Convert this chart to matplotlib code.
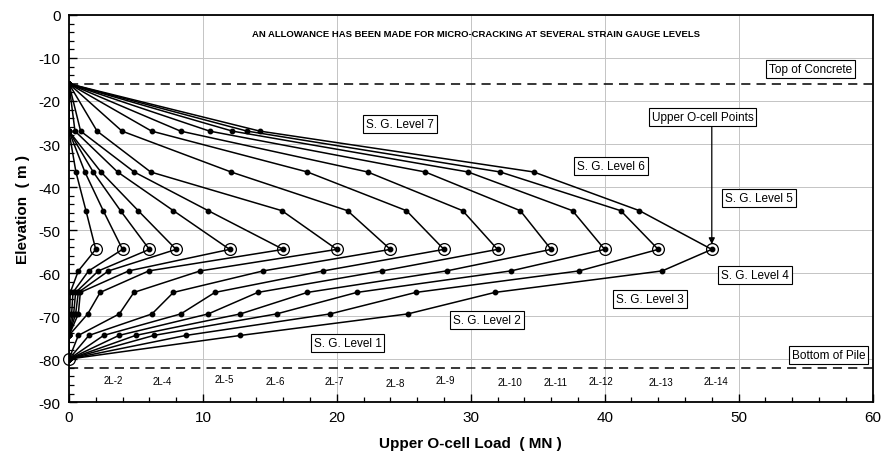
import matplotlib.pyplot as plt
from matplotlib.ticker import MultipleLocator

plt.rcParams['font.family'] = ['Liberation Sans', 'DejaVu Sans']
plt.rcParams['axes.unicode_minus'] = False

# Elevations of the points on each load curve (m)
elevations = [-16, -27, -36.5, -45.5, -54.5, -59.5, -64.5, -69.5, -74.5, -80]

# Upper O-cell load for each load step (MN)
ocell_load = [2, 4, 6, 8, 12, 16, 20, 24, 28, 32, 36, 40, 44, 48]

# Load at each strain gauge level, one value per load step (MN)
sg7 = [0, 0, 0, 0, 0.45, 0.87, 2.1, 3.96, 6.17, 8.33, 10.5, 12.2, 13.3, 14.25]
sg6 = [0.52, 1.19, 1.81, 2.39, 3.63, 4.87, 6.1, 12.1, 17.8, 22.3, 26.6, 29.8, 32.2, 34.7]
sg5 = [1.27, 2.56, 3.85, 5.17, 7.8, 10.4, 15.9, 20.8, 25.2, 29.4, 33.7, 37.6, 41.2, 42.6]
sg4 = [0.7, 1.47, 2.2, 2.95, 4.46, 5.96, 9.8, 14.5, 19.0, 23.4, 28.2, 33.0, 38.1, 44.3]
sg3 = [0.1, 0.3, 0.5, 0.7, 0.85, 2.33, 4.85, 7.8, 10.9, 14.1, 17.8, 21.5, 25.9, 31.8]
sg2 = [0.05, 0.2, 0.35, 0.5, 0.7, 1.4, 3.76, 6.2, 8.35, 10.4, 12.8, 15.5, 19.5, 25.3]
sg1 = [0, 0, 0, 0, 0, 0, 0.7, 1.49, 2.59, 3.73, 4.97, 6.34, 8.73, 12.8]

top_of_concrete = -16
bottom_of_pile = -82
bottom_point = -80

step_labels = ['2L-2', '2L-4', '2L-5', '2L-6', '2L-7', '2L-8', '2L-9',
               '2L-10', '2L-11', '2L-12', '2L-13', '2L-14']
step_label_x = [3.3, 7.0, 11.6, 15.4, 19.8, 24.4, 28.1, 32.9, 36.3, 39.7, 44.2, 48.3]
step_label_y = [-84.9, -85.1, -84.7, -85.1, -85.0, -85.6, -84.9, -85.4, -85.4, -85.2, -85.3, -85.2]

level_names = ['S. G. Level 7', 'S. G. Level 6', 'S. G. Level 5', 'S. G. Level 4',
               'S. G. Level 3', 'S. G. Level 2', 'S. G. Level 1']
level_name_x = [24.7, 40.5, 51.5, 51.2, 43.4, 31.2, 20.8]
level_name_y = [-25.3, -35.2, -42.6, -60.5, -66.0, -70.9, -76.3]


fig = plt.figure(figsize=(8.84, 4.56), dpi=100)
ax = fig.add_axes([0.078, 0.116, 0.909, 0.849])

ax.grid(True, which='major', color='#c4c4c4', linewidth=0.7, zorder=0)

# reference lines
ax.plot([0, 60], [top_of_concrete, top_of_concrete], color='black', linestyle=(0, (6, 4)),
        linewidth=1.1, zorder=2)
ax.plot([0, 60], [bottom_of_pile, bottom_of_pile], color='black', linestyle=(0, (6, 4)),
        linewidth=1.1, zorder=2)

# load distribution curves
for i in range(len(ocell_load)):
    loads = [0, sg7[i], sg6[i], sg5[i], ocell_load[i], sg4[i], sg3[i], sg2[i], sg1[i], 0]
    ax.plot(loads, elevations, color='black', linewidth=1.1, marker='o', markersize=3.2,
            zorder=3)
    ax.plot(ocell_load[i], elevations[4], marker='o', markersize=8.5, markerfacecolor='none',
            markeredgecolor='black', markeredgewidth=0.9, zorder=4)

ax.plot(0, bottom_point, marker='o', markersize=8.5, markerfacecolor='none',
        markeredgecolor='black', markeredgewidth=0.9, zorder=4, clip_on=False)

box = dict(boxstyle='square,pad=0.25', facecolor='white', edgecolor='black', linewidth=0.8)

for name, x, y in zip(level_names, level_name_x, level_name_y):
    ax.text(x, y, name, fontsize=8.5, ha='center', va='center', bbox=box, zorder=5)

for lab, x, y in zip(step_labels, step_label_x, step_label_y):
    ax.text(x, y, lab, fontsize=7, ha='center', va='center', zorder=5)

ax.text(55.4, -12.6, 'Top of Concrete', fontsize=8.5, ha='center', va='center', bbox=box, zorder=5)
ax.text(56.7, -79.0, 'Bottom of Pile', fontsize=8.5, ha='center', va='center', bbox=box, zorder=5)

ax.text(47.3, -23.8, 'Upper O-cell Points', fontsize=8.5, ha='center', va='center',
        bbox=box, zorder=5)
ax.annotate('', xy=(48, -53.3), xytext=(48, -26.0), zorder=5,
            arrowprops=dict(arrowstyle='-|>', color='black', linewidth=0.9,
                            mutation_scale=9, shrinkA=0, shrinkB=0))

ax.text(30.4, -4.4, 'AN ALLOWANCE HAS BEEN MADE FOR MICRO-CRACKING AT SEVERAL STRAIN GAUGE LEVELS',
        fontsize=6.8, fontweight='bold', ha='center', va='center', zorder=5)

ax.set_xlim(0, 60)
ax.set_ylim(-90, 0)
ax.xaxis.set_major_locator(MultipleLocator(10))
ax.xaxis.set_minor_locator(MultipleLocator(2))
ax.yaxis.set_major_locator(MultipleLocator(10))
ax.yaxis.set_minor_locator(MultipleLocator(2))
ax.tick_params(which='major', direction='in', length=6, width=1, labelsize=11, pad=6)
ax.tick_params(which='minor', direction='in', length=3.5, width=0.9)
for sp in ax.spines.values():
    sp.set_linewidth(1.3)

ax.set_xlabel('Upper O-cell Load  ( MN )', fontsize=11, fontweight='bold', labelpad=8)
ax.set_ylabel('Elevation  ( m )', fontsize=11, fontweight='bold', labelpad=6)

plt.savefig('out.png', dpi=100)
